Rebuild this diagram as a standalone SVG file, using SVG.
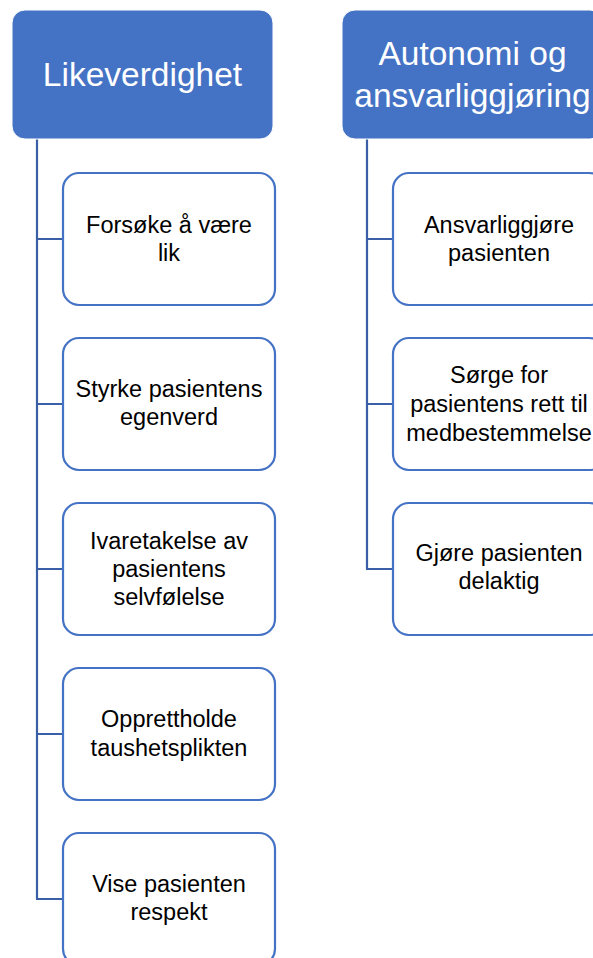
<svg xmlns="http://www.w3.org/2000/svg" width="593" height="958" viewBox="0 0 593 958">
<style>
.hdr{fill:#4472C4;stroke:#ffffff;stroke-width:1}
.box{fill:#ffffff;stroke:#4472C4;stroke-width:2.2}
.ht{font-family:"Liberation Sans",Arial,sans-serif;font-size:33.5px;fill:#ffffff;text-anchor:middle}
.ct{font-family:"Liberation Sans",Arial,sans-serif;font-size:23.5px;fill:#000000;text-anchor:middle}
.con{fill:none;stroke:#3A5FA6;stroke-width:2.2}
</style>
<rect width="593" height="958" fill="#ffffff"/>
<g id="connectors">
<path class="con" d="M37,139 V899 M36,239 H63 M36,404 H63 M36,569 H63 M36,734 H63 M36,899 H63"/>
<path class="con" d="M367,139 V569 M366,239 H393 M366,404 H393 M366,569 H393"/>
</g>
<g id="h1"><rect class="hdr" x="12" y="10" width="261" height="129" rx="13"/><text class="ht" x="142.5" y="86">Likeverdighet</text></g>
<g id="h2"><rect class="hdr" x="342" y="10" width="261" height="129" rx="13"/><text class="ht" x="472.5" y="65">Autonomi og</text><text class="ht" x="472.5" y="107">ansvarliggjøring</text></g>
<g id="l1"><rect class="box" x="63" y="173" width="212" height="132" rx="16"/><text class="ct" x="169" y="233">Forsøke å være</text><text class="ct" x="169" y="261">lik</text></g>
<g id="l2"><rect class="box" x="63" y="338" width="212" height="132" rx="16"/><text class="ct" x="169" y="397">Styrke pasientens</text><text class="ct" x="169" y="425">egenverd</text></g>
<g id="l3"><rect class="box" x="63" y="503" width="212" height="132" rx="16"/><text class="ct" x="169" y="549">Ivaretakelse av</text><text class="ct" x="169" y="577">pasientens</text><text class="ct" x="169" y="605">selvfølelse</text></g>
<g id="l4"><rect class="box" x="63" y="668" width="212" height="132" rx="16"/><text class="ct" x="169" y="727">Opprettholde</text><text class="ct" x="169" y="756">taushetsplikten</text></g>
<g id="l5"><rect class="box" x="63" y="833" width="212" height="132" rx="16"/><text class="ct" x="169" y="892">Vise pasienten</text><text class="ct" x="169" y="920">respekt</text></g>
<g id="r1"><rect class="box" x="393" y="173" width="212" height="132" rx="16"/><text class="ct" x="499" y="233">Ansvarliggjøre</text><text class="ct" x="499" y="261">pasienten</text></g>
<g id="r2"><rect class="box" x="393" y="338" width="212" height="132" rx="16"/><text class="ct" x="499" y="383">Sørge for</text><text class="ct" x="499" y="412">pasientens rett til</text><text class="ct" x="499" y="441">medbestemmelse</text></g>
<g id="r3"><rect class="box" x="393" y="503" width="212" height="132" rx="16"/><text class="ct" x="499" y="561">Gjøre pasienten</text><text class="ct" x="499" y="589">delaktig</text></g>
</svg>
